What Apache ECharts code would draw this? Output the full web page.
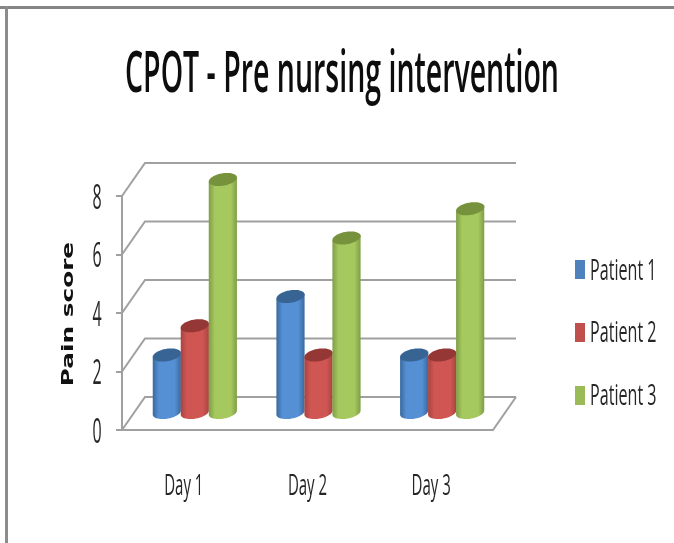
<!DOCTYPE html>
<html><head><meta charset="utf-8">
<style>html,body{margin:0;padding:0;background:#fff}#c{width:674px;height:543px}</style>
<script src="https://cdn.jsdelivr.net/npm/echarts@6/dist/echarts.min.js"></script>
</head><body><div id="c"></div>
<script>
const categories = ['Day 1', 'Day 2', 'Day 3'];
const patient1 = [2, 4, 2];
const patient2 = [3, 2, 2];
const patient3 = [8, 6, 7];
const yTicks = [0, 2, 4, 6, 8];
const seriesNames = ['Patient 1', 'Patient 2', 'Patient 3'];
const seriesValues = [patient1, patient2, patient3];
const palette = [
  {legend:'#4F81BD', edge:'#39699f', light:'#5590d4', top:'#386494'},
  {legend:'#C0504D', edge:'#a84441', light:'#d05653', top:'#953735'},
  {legend:'#9BBB59', edge:'#7f9e45', light:'#a6c95f', top:'#76923C'}
];
const DEPTH_X = 23, DEPTH_Y = -33;
const LINE = '#a0a0a0';
const FONT = '"Open Sans",sans-serif';

function squeezed(text, x, y, size, scale, align, color, weight) {
  return {type:'text', x, y, scaleX:scale, silent:true, style:{
    text, fontFamily:FONT, fontSize:size, fontWeight:weight || 'normal', fill:color || '#262626', align:align || 'center', verticalAlign:'middle'}};
}
function ellipsePts(cx, cy, rx, ry, from, to, n) {
  const a = -10 * Math.PI / 180, pts = [];
  for (let i = 0; i <= n; i++) {
    const t = from + (to - from) * (n ? i / n : 0);
    const x = rx * Math.cos(t), y = ry * Math.sin(t);
    pts.push([cx + x * Math.cos(a) - y * Math.sin(a), cy + x * Math.sin(a) + y * Math.cos(a)]);
  }
  return pts;
}
function frameItem(params, api) {
  const v = api.value(1), p = api.coord([0, v]);
  const cs = params.coordSys, y = p[1], l = cs.x, r = cs.x + cs.width;
  const ls = {stroke: LINE, lineWidth: 2, fill: null};
  const ch = [
    {type:'polyline', shape:{points:[[l, y], [l + DEPTH_X, y + DEPTH_Y], [r + DEPTH_X, y + DEPTH_Y]]}, style:ls},
    squeezed(String(v), l - 25, y + 3, 34, 0.47)
  ];
  if (v === 0) {
    ch.push({type:'polyline', shape:{points:[[l, y], [r, y], [r + DEPTH_X, y + DEPTH_Y]]}, style:ls});
  }
  return {type:'group', children:ch};
}
function dayLabelItem(params, api) {
  const p = api.coord([api.value(0), 0]);
  return squeezed(categories[api.value(0)], p[0], p[1] + 56, 30, 0.5);
}
function cylinderItem(si) {
  return function (params, api) {
    const top = api.coord([api.value(0), api.value(1)]);
    const base = api.coord([api.value(0), 0]);
    const w = 28, rx = 14.3, ry = 6.2;
    const cx = top[0] + 11 + (si - 1) * w;
    const by = base[1] - 17.5, ty = top[1] - 16.5;
    const c = palette[si];
    const body = ellipsePts(cx, by, rx, ry, 0, Math.PI, 24);
    const left = ellipsePts(cx, ty, rx, ry, Math.PI, Math.PI, 0);
    const right = ellipsePts(cx, ty, rx, ry, 0, 0, 0);
    return {type:'group', children:[
      {type:'polygon', shape:{points: body.concat(left, right)}, style:{
        fill:{type:'linear', x:0, y:0, x2:1, y2:0, colorStops:[
          {offset:0, color:c.edge},{offset:.22, color:c.light},{offset:.78, color:c.light},{offset:1, color:c.edge}]}
      }},
      {type:'polygon', shape:{points: ellipsePts(cx, ty, rx, ry, 0, 2 * Math.PI, 40)}, style:{fill:c.top}}
    ]};
  };
}
const series = [{
  type:'custom', name:'frame', silent:true, z:1, clip:false,
  renderItem: frameItem,
  encode:{x:0, y:1},
  data: yTicks.map(v => [0, v])
}, {
  type:'custom', name:'days', silent:true, z:1, clip:false,
  renderItem: dayLabelItem,
  encode:{x:0, y:1},
  data: categories.map((c, i) => [i, 0])
}].concat(seriesNames.map((name, si) => ({
  type:'custom', name, z:2 + si, clip:false,
  renderItem: cylinderItem(si),
  itemStyle:{color: palette[si].legend},
  encode:{x:0, y:1},
  data: seriesValues[si].map((v, i) => [i, v])
})));

const legendGraphics = seriesNames.map((name, i) => squeezed(name, 590, 271 + i * 62.5, 30, 0.537, 'left'));

const chart = echarts.init(document.getElementById('c'), null, {renderer:'canvas'});
chart.setOption({
  animation:false,
  backgroundColor:'#fff',
  legend:{data:seriesNames, orient:'vertical', left:575, top:260, padding:0, icon:'rect', itemWidth:10, itemHeight:19, itemGap:44,
    formatter:() => ' ', textStyle:{fontSize:8}},
  grid:{left:122, width:371, top:196, height:234},
  xAxis:{type:'category', data:categories,
    axisLine:{show:false}, axisTick:{show:false}, axisLabel:{show:false}},
  yAxis:{type:'value', min:0, max:8, interval:2,
    axisLine:{show:true, lineStyle:{color:LINE, width:2}},
    axisTick:{show:true, length:6, lineStyle:{color:LINE, width:2}},
    splitLine:{show:false}, axisLabel:{show:false}},
  series,
  graphic:[
    {type:'rect', silent:true, shape:{x:0, y:6, width:674, height:3}, style:{fill:'#858585'}},
    {type:'rect', silent:true, shape:{x:5, y:6, width:3, height:537}, style:{fill:'#8c8c8c'}},
    squeezed('CPOT - Pre nursing intervention', 342, 76, 57, 0.5, 'center', '#0d0d0d', 600),
    {type:'text', x:69, y:314, rotation:Math.PI / 2, scaleX:1.65, silent:true,
      style:{text:'Pain score', fontFamily:'"DejaVu Sans",sans-serif', fontWeight:'bold', fontSize:15, fill:'#111', align:'center', verticalAlign:'middle'}}
  ].concat(legendGraphics)
});
</script></body></html>
